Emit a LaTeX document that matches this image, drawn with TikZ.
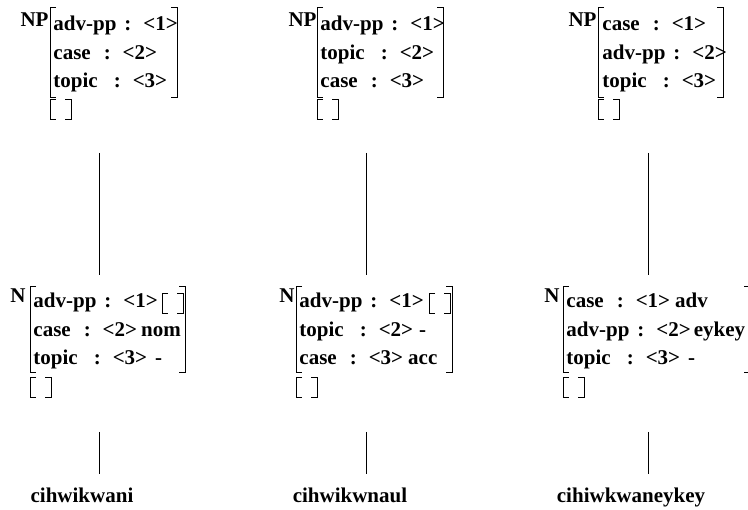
\documentclass[tikz,border=0pt]{standalone}
\usepackage{fontspec}
\setmainfont{Liberation Serif}
\usepackage{tikz}
\usetikzlibrary{arrows.meta}

% brackets of a feature structure: left x, right x, top y, bottom y
\newcommand{\avmbox}[4]{%
  \draw (#1+6,#3) -- (#1,#3) -- (#1,#4) -- (#1+6,#4);
  \draw (#2-6,#3) -- (#2,#3) -- (#2,#4) -- (#2-6,#4);}
% empty structure [ ] at left x, top y
\newcommand{\emptyavm}[2]{\avmbox{#1}{#1+21}{#2}{#2+20}}
\newcommand{\fcol}[1]{\hspace{#1}:\hspace{12pt}}

\begin{document}
\begin{tikzpicture}[x=1pt,y=-1pt,line width=0.9pt,
  every node/.style={font=\fontsize{21}{25}\selectfont\bfseries,inner sep=0pt},
  cat/.style={anchor=base east},
  feat/.style={anchor=base west},
  word/.style={anchor=base}]
\clip (0,0) rectangle (748,510);
\begin{scope}
    % NP structures
    \node[cat] (NPa) at (49,27) {NP};
    \node[feat] (NPa1) at (53,31) {adv-pp\fcol{8pt}<1>};
    \node[feat] (NPa2) at (53,59.5) {case\fcol{13pt}<2>};
    \node[feat] (NPa3) at (53,88) {topic\fcol{16pt}<3>};

    \node[cat] (NPb) at (317,27) {NP};
    \node[feat] (NPb1) at (320,31) {adv-pp\fcol{8pt}<1>};
    \node[feat] (NPb2) at (320,59.5) {topic\fcol{16pt}<2>};
    \node[feat] (NPb3) at (320,88) {case\fcol{13pt}<3>};

    \node[cat] (NPc) at (597,27) {NP};
    \node[feat] (NPc1) at (602,31) {case\fcol{13pt}<1>};
    \node[feat] (NPc2) at (602,59.5) {adv-pp\fcol{8pt}<2>};
    \node[feat] (NPc3) at (602,88) {topic\fcol{16pt}<3>};

    % N structures
    \node[cat] (Na) at (26,303) {N};
    \node[feat] (Na1) at (33,308) {adv-pp\fcol{8pt}<1>};
    \node[feat] (Na2) at (33,336.5) {case\fcol{13pt}<2>\hspace{4pt}nom};
    \node[feat] (Na3) at (33,365) {topic\fcol{16pt}<3>\hspace{8pt}-};

    \node[cat] (Nb) at (295,303) {N};
    \node[feat] (Nb1) at (299,308) {adv-pp\fcol{8pt}<1>};
    \node[feat] (Nb2) at (299,336.5) {topic\fcol{16pt}<2>\hspace{6pt}-};
    \node[feat] (Nb3) at (299,365) {case\fcol{13pt}<3>\hspace{5pt}acc};

    \node[cat] (Nc) at (560,303) {N};
    \node[feat] (Nc1) at (566,308) {case\fcol{13pt}<1>\hspace{5pt}adv};
    \node[feat] (Nc2) at (566,336.5) {adv-pp\fcol{8pt}<2>\hspace{3pt}eykey};
    \node[feat] (Nc3) at (566,365) {topic\fcol{16pt}<3>\hspace{8pt}-};

    % words
    \node[word] (Wa) at (82,503) {cihwikwani};
    \node[word] (Wb) at (350,503) {cihwikwnaul};
    \node[word] (Wc) at (631,503) {cihiwkwaneykey};

    \coordinate (NPaB) at (99,153);  \coordinate (NaT) at (99,275);
    \coordinate (NaB) at (99,432);   \coordinate (WaT) at (99,474);
    \coordinate (NPbB) at (366,153); \coordinate (NbT) at (366,275);
    \coordinate (NbB) at (366,432);  \coordinate (WbT) at (366,474);
    \coordinate (NPcB) at (648,153); \coordinate (NcT) at (648,275);
    \coordinate (NcB) at (648,432);  \coordinate (WcT) at (648,474);
\end{scope}

% brackets
\avmbox{50}{177}{7}{97}    \emptyavm{50}{99}
\avmbox{317}{443}{7}{97}   \emptyavm{317}{99}
\avmbox{598}{723}{7}{97}   \emptyavm{598}{99}
\avmbox{30}{185}{286}{372} \emptyavm{30}{377}  \emptyavm{162}{293}
\avmbox{296}{452}{286}{372} \emptyavm{296}{377} \emptyavm{429}{293}
\avmbox{563}{750}{286}{372} \emptyavm{563}{377}

\begin{scope}[every edge/.style={draw=black}]
    \path [-] (NPaB) edge (NaT);
    \path [-] (NaB) edge (WaT);
    \path [-] (NPbB) edge (NbT);
    \path [-] (NbB) edge (WbT);
    \path [-] (NPcB) edge (NcT);
    \path [-] (NcB) edge (WcT);
\end{scope}
\end{tikzpicture}
\end{document}
